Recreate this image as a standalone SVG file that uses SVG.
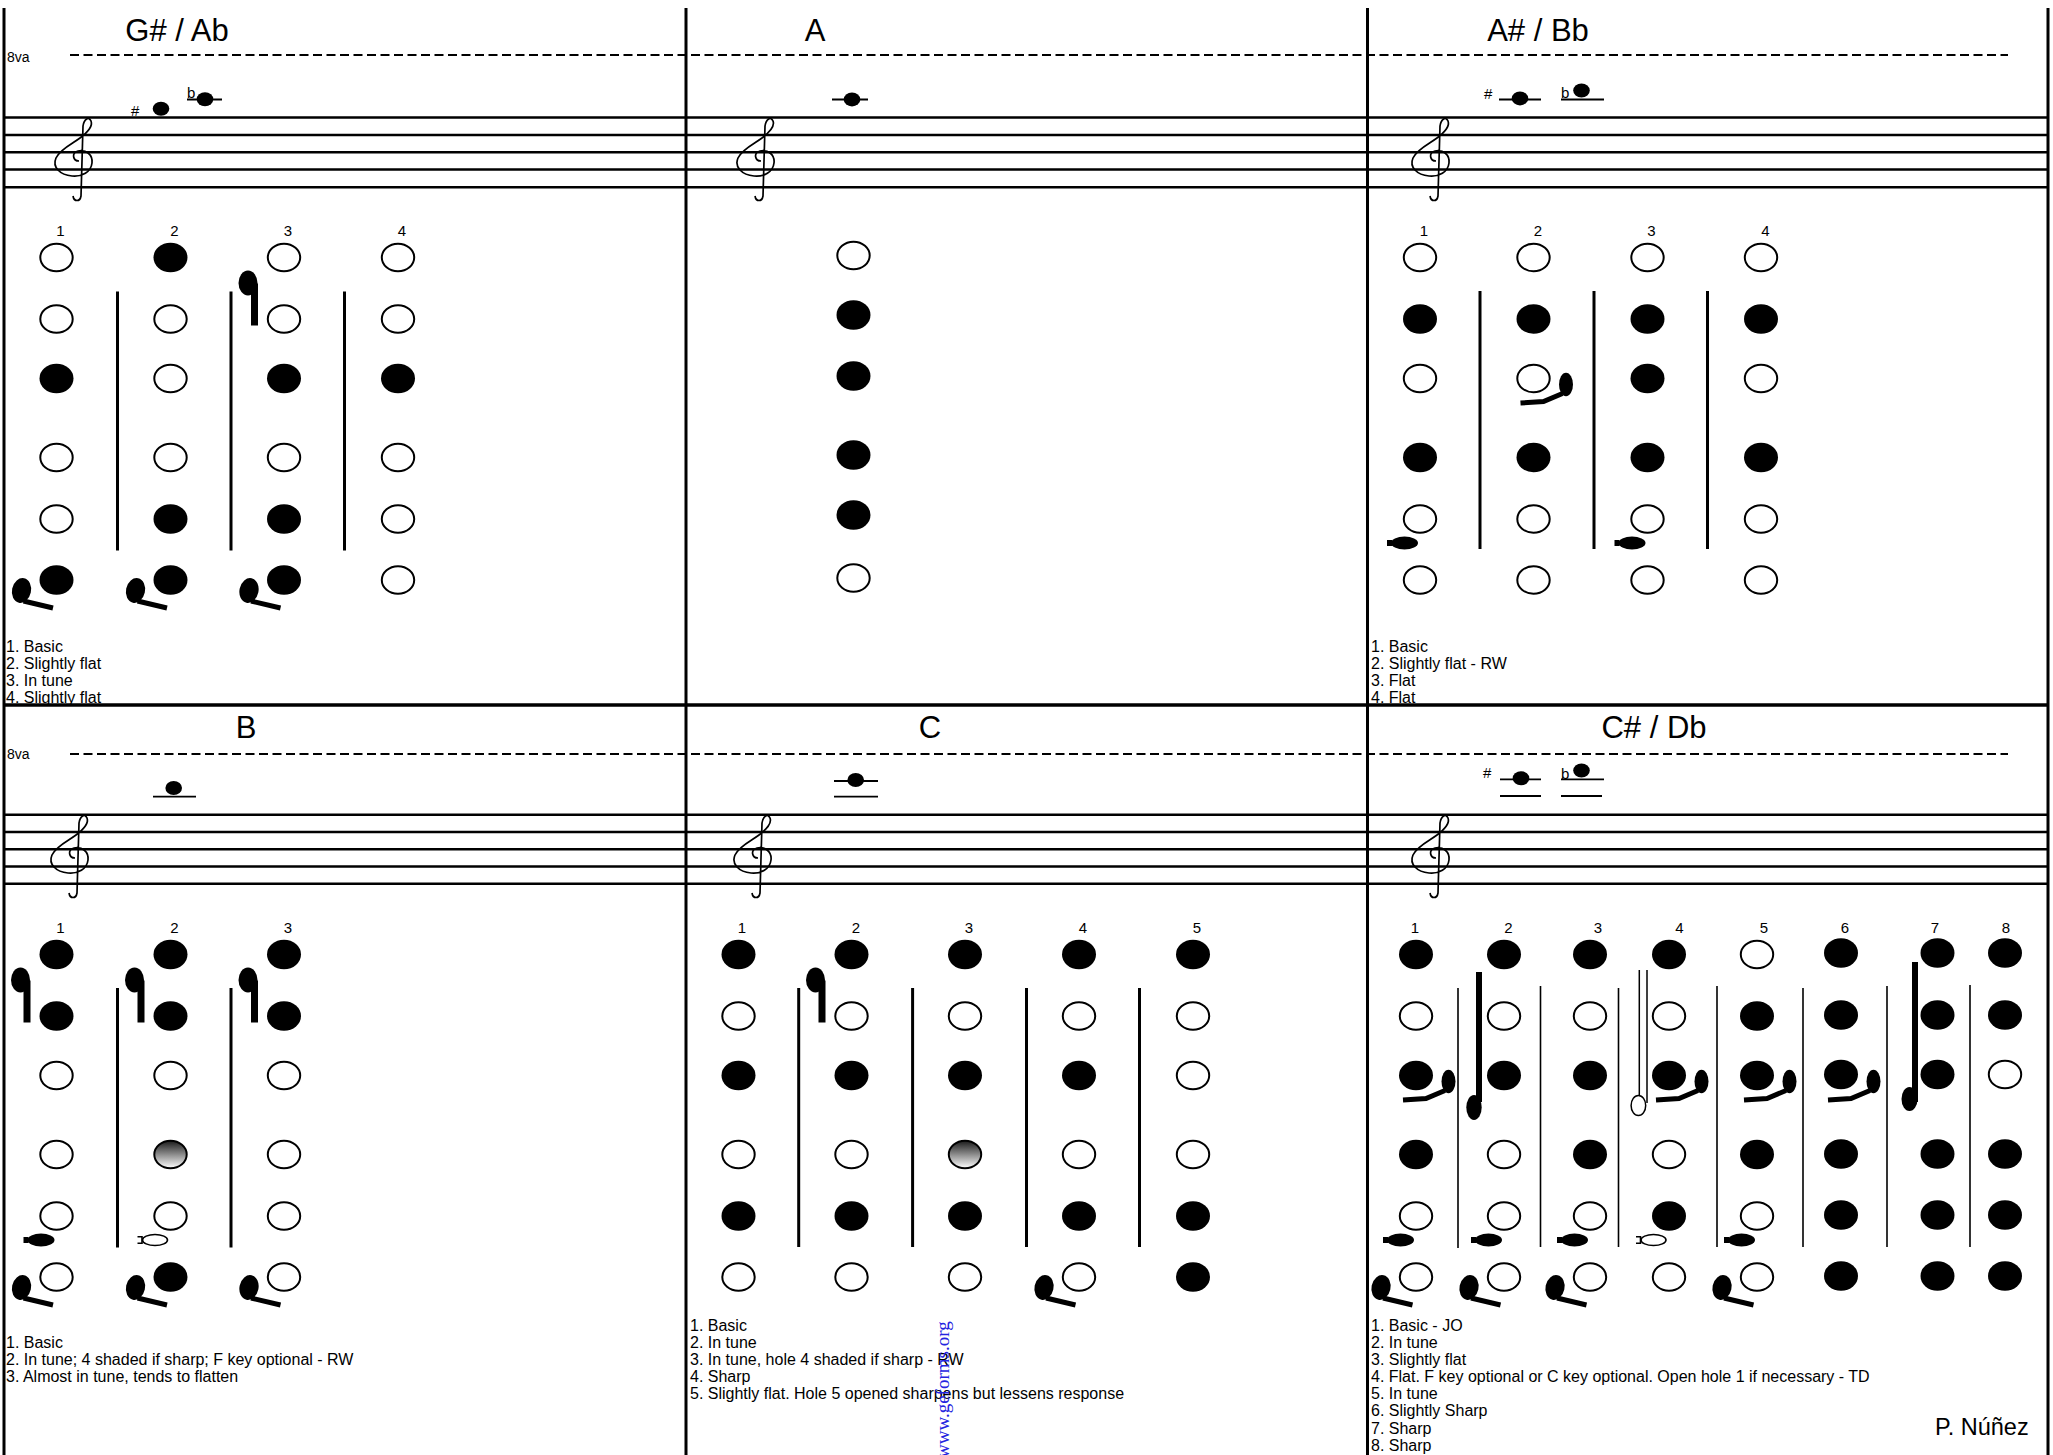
<svg xmlns="http://www.w3.org/2000/svg" width="2053" height="1455" viewBox="0 0 2053 1455">
<style>
text{font-family:"Liberation Sans",Arial,sans-serif;fill:#000}
.t{font-size:31px;text-anchor:middle}
.n{font-size:15px;text-anchor:middle}
.l{font-size:16px}
.acc{font-size:15px}
.va{font-size:14px}
.o{fill:#fff;stroke:#000;stroke-width:2}
.f{fill:#000}
.g{fill:url(#shade);stroke:#000;stroke-width:2}
.staff{stroke:#000;stroke-width:2.5}
.dash{stroke:#000;stroke-width:1.8;stroke-dasharray:9 4.5}
.bd{stroke:#000;stroke-width:3}
.dv{stroke:#000;stroke-width:3}
.dvt{stroke:#000;stroke-width:1.6}
.led{stroke:#000;stroke-width:1.8}
.clef{fill:none;stroke:#000;stroke-width:1.7}
</style>
<defs>
<linearGradient id="shade" x1="0" y1="0" x2="0" y2="1">
<stop offset="0" stop-color="#1a1a1a"/>
<stop offset="1" stop-color="#ffffff"/>
</linearGradient>
<path id="clef" class="clef" d="M 79 161 C 73 161, 71 153, 78 151 C 86 149, 93 155, 92 163 C 91 172, 82 177, 72 176 C 60 175, 52 167, 56 158 C 60 149, 72 144, 80 138 C 88 132, 93 126, 91 121 C 89 116, 84 119, 83 126 L 81 196 C 80 202, 74 202, 73 196"/>
<g id="lowkey">
<ellipse cx="-35" cy="10.5" rx="9.5" ry="12.5" transform="rotate(12 -35 10.5)" fill="#000"/>
<line x1="-33" y1="21" x2="-3.5" y2="28" stroke="#000" stroke-width="5"/>
</g>
<g id="fkey">
<ellipse cx="-36" cy="25.5" rx="9.5" ry="12.5" fill="#000"/>
<rect x="-33" y="26" width="7" height="42" fill="#000"/>
</g>
<g id="ekey">
<ellipse cx="-15.5" cy="24" rx="13.5" ry="6.5" fill="#000"/>
<rect x="-33" y="21" width="5" height="6" fill="#000"/>
</g>
<g id="ekeyo">
<ellipse cx="-15.5" cy="24" rx="12.5" ry="5.5" fill="#fff" stroke="#000" stroke-width="1.6"/>
<path d="M -33 20.8 H -28.5 V 27.2 H -33" fill="none" stroke="#000" stroke-width="1.6"/>
</g>
<g id="gkey">
<ellipse cx="32.5" cy="6" rx="7" ry="11.7" fill="#000"/>
<polyline points="-13,24.5 10,23 29,15" fill="none" stroke="#000" stroke-width="5"/>
</g>
</defs>

<rect x="0" y="0" width="2053" height="1455" fill="#fff"/>

<g id="frame">
<line class="bd" x1="4" y1="8" x2="4" y2="1455"/>
<line class="bd" x1="686" y1="8" x2="686" y2="1455"/>
<line class="bd" x1="1367.5" y1="8" x2="1367.5" y2="1455"/>
<line class="bd" x1="2048" y1="8" x2="2048" y2="1455"/>
<line x1="4" y1="705" x2="2048" y2="705" stroke="#000" stroke-width="3.5"/>
</g>

<g id="staves">
<line class="dash" x1="70" y1="55" x2="2008" y2="55"/>
<line class="dash" x1="70" y1="754" x2="2008" y2="754"/>
<line class="staff" x1="4" y1="117.5" x2="2048" y2="117.5"/>
<line class="staff" x1="4" y1="135" x2="2048" y2="135"/>
<line class="staff" x1="4" y1="152.3" x2="2048" y2="152.3"/>
<line class="staff" x1="4" y1="169.5" x2="2048" y2="169.5"/>
<line class="staff" x1="4" y1="187.3" x2="2048" y2="187.3"/>
<line class="staff" x1="4" y1="814.8" x2="2048" y2="814.8"/>
<line class="staff" x1="4" y1="832" x2="2048" y2="832"/>
<line class="staff" x1="4" y1="849.3" x2="2048" y2="849.3"/>
<line class="staff" x1="4" y1="866.6" x2="2048" y2="866.6"/>
<line class="staff" x1="4" y1="883.8" x2="2048" y2="883.8"/>
<text class="va" x="7" y="62">8va</text>
<text class="va" x="7" y="759">8va</text>
<use href="#clef" x="0" y="0"/>
<use href="#clef" x="682" y="0"/>
<use href="#clef" x="1357" y="0"/>
<use href="#clef" x="-4" y="697"/>
<use href="#clef" x="679" y="697"/>
<use href="#clef" x="1357" y="697"/>
</g>

<g id="p-gsharp">
<text class="t" x="177" y="40.5">G# / Ab</text>
<text class="acc" x="131" y="115.7">#</text>
<ellipse class="f" cx="161" cy="108.7" rx="8.3" ry="7"/>
<text class="acc" x="187" y="98">b</text>
<line class="led" x1="187" y1="99.5" x2="222" y2="99.5"/>
<ellipse class="f" cx="205" cy="99.3" rx="8.3" ry="7"/>
<text class="n" x="60.5" y="235.5">1</text>
<text class="n" x="174.5" y="235.5">2</text>
<text class="n" x="288" y="235.5">3</text>
<text class="n" x="402" y="235.5">4</text>
<line class="dv" x1="117.5" y1="291.5" x2="117.5" y2="550.5"/>
<line class="dv" x1="231" y1="291.5" x2="231" y2="550.5"/>
<line class="dv" x1="344.5" y1="291.5" x2="344.5" y2="550.5"/>
<ellipse class="o" cx="56.5" cy="257.5" rx="16.2" ry="13.8"/>
<ellipse class="o" cx="56.5" cy="319" rx="16.2" ry="13.8"/>
<ellipse class="f" cx="56.5" cy="378.5" rx="17" ry="14.7"/>
<ellipse class="o" cx="56.5" cy="457.5" rx="16.2" ry="13.8"/>
<ellipse class="o" cx="56.5" cy="519" rx="16.2" ry="13.8"/>
<ellipse class="f" cx="56.5" cy="580" rx="17" ry="14.7"/>
<ellipse class="f" cx="170.5" cy="257.5" rx="17" ry="14.7"/>
<ellipse class="o" cx="170.5" cy="319" rx="16.2" ry="13.8"/>
<ellipse class="o" cx="170.5" cy="378.5" rx="16.2" ry="13.8"/>
<ellipse class="o" cx="170.5" cy="457.5" rx="16.2" ry="13.8"/>
<ellipse class="f" cx="170.5" cy="519" rx="17" ry="14.7"/>
<ellipse class="f" cx="170.5" cy="580" rx="17" ry="14.7"/>
<ellipse class="o" cx="284" cy="257.5" rx="16.2" ry="13.8"/>
<ellipse class="o" cx="284" cy="319" rx="16.2" ry="13.8"/>
<ellipse class="f" cx="284" cy="378.5" rx="17" ry="14.7"/>
<ellipse class="o" cx="284" cy="457.5" rx="16.2" ry="13.8"/>
<ellipse class="f" cx="284" cy="519" rx="17" ry="14.7"/>
<ellipse class="f" cx="284" cy="580" rx="17" ry="14.7"/>
<ellipse class="o" cx="398" cy="257.5" rx="16.2" ry="13.8"/>
<ellipse class="o" cx="398" cy="319" rx="16.2" ry="13.8"/>
<ellipse class="f" cx="398" cy="378.5" rx="17" ry="14.7"/>
<ellipse class="o" cx="398" cy="457.5" rx="16.2" ry="13.8"/>
<ellipse class="o" cx="398" cy="519" rx="16.2" ry="13.8"/>
<ellipse class="o" cx="398" cy="580" rx="16.2" ry="13.8"/>
<use href="#fkey" x="284" y="257.5"/>
<use href="#lowkey" x="56.5" y="580"/>
<use href="#lowkey" x="170.5" y="580"/>
<use href="#lowkey" x="284" y="580"/>
<text class="l" x="6" y="651.5">1. Basic</text>
<text class="l" x="6" y="668.7">2. Slightly flat</text>
<text class="l" x="6" y="686">3. In tune</text>
<text class="l" x="6" y="703">4. Slightly flat</text>
</g>

<g id="p-a">
<text class="t" x="815" y="40.5">A</text>
<line class="led" x1="832" y1="99.5" x2="868" y2="99.5"/>
<ellipse class="f" cx="852" cy="99.4" rx="8.3" ry="7"/>
<ellipse class="o" cx="853.5" cy="255.5" rx="16.2" ry="13.8"/>
<ellipse class="f" cx="853.5" cy="315" rx="17" ry="14.7"/>
<ellipse class="f" cx="853.5" cy="376" rx="17" ry="14.7"/>
<ellipse class="f" cx="853.5" cy="455" rx="17" ry="14.7"/>
<ellipse class="f" cx="853.5" cy="515" rx="17" ry="14.7"/>
<ellipse class="o" cx="853.5" cy="578" rx="16.2" ry="13.8"/>
</g>

<g id="p-asharp">
<text class="t" x="1538" y="40.5">A# / Bb</text>
<text class="acc" x="1484" y="99">#</text>
<line class="led" x1="1499" y1="99.5" x2="1541" y2="99.5"/>
<ellipse class="f" cx="1520" cy="98.4" rx="8.3" ry="7"/>
<text class="acc" x="1561" y="98">b</text>
<line class="led" x1="1561" y1="99.5" x2="1604" y2="99.5"/>
<ellipse class="f" cx="1581.5" cy="90.5" rx="8.3" ry="7"/>
<text class="n" x="1424" y="235.5">1</text>
<text class="n" x="1538" y="235.5">2</text>
<text class="n" x="1651.5" y="235.5">3</text>
<text class="n" x="1765.5" y="235.5">4</text>
<line class="dv" x1="1480" y1="291" x2="1480" y2="549"/>
<line class="dv" x1="1594" y1="291" x2="1594" y2="549"/>
<line class="dv" x1="1707.5" y1="291" x2="1707.5" y2="549"/>
<ellipse class="o" cx="1420" cy="257.5" rx="16.2" ry="13.8"/>
<ellipse class="f" cx="1420" cy="319" rx="17" ry="14.7"/>
<ellipse class="o" cx="1420" cy="378.5" rx="16.2" ry="13.8"/>
<ellipse class="f" cx="1420" cy="457.5" rx="17" ry="14.7"/>
<ellipse class="o" cx="1420" cy="519" rx="16.2" ry="13.8"/>
<ellipse class="o" cx="1420" cy="580" rx="16.2" ry="13.8"/>
<ellipse class="o" cx="1533.5" cy="257.5" rx="16.2" ry="13.8"/>
<ellipse class="f" cx="1533.5" cy="319" rx="17" ry="14.7"/>
<ellipse class="o" cx="1533.5" cy="378.5" rx="16.2" ry="13.8"/>
<ellipse class="f" cx="1533.5" cy="457.5" rx="17" ry="14.7"/>
<ellipse class="o" cx="1533.5" cy="519" rx="16.2" ry="13.8"/>
<ellipse class="o" cx="1533.5" cy="580" rx="16.2" ry="13.8"/>
<ellipse class="o" cx="1647.5" cy="257.5" rx="16.2" ry="13.8"/>
<ellipse class="f" cx="1647.5" cy="319" rx="17" ry="14.7"/>
<ellipse class="f" cx="1647.5" cy="378.5" rx="17" ry="14.7"/>
<ellipse class="f" cx="1647.5" cy="457.5" rx="17" ry="14.7"/>
<ellipse class="o" cx="1647.5" cy="519" rx="16.2" ry="13.8"/>
<ellipse class="o" cx="1647.5" cy="580" rx="16.2" ry="13.8"/>
<ellipse class="o" cx="1761" cy="257.5" rx="16.2" ry="13.8"/>
<ellipse class="f" cx="1761" cy="319" rx="17" ry="14.7"/>
<ellipse class="o" cx="1761" cy="378.5" rx="16.2" ry="13.8"/>
<ellipse class="f" cx="1761" cy="457.5" rx="17" ry="14.7"/>
<ellipse class="o" cx="1761" cy="519" rx="16.2" ry="13.8"/>
<ellipse class="o" cx="1761" cy="580" rx="16.2" ry="13.8"/>
<use href="#gkey" x="1533.5" y="378.5"/>
<use href="#ekey" x="1420" y="519"/>
<use href="#ekey" x="1647.5" y="519"/>
<text class="l" x="1371" y="651.5">1. Basic</text>
<text class="l" x="1371" y="668.7">2. Slightly flat - RW</text>
<text class="l" x="1371" y="686">3. Flat</text>
<text class="l" x="1371" y="703">4. Flat</text>
</g>

<g id="p-b">
<text class="t" x="246" y="737.5">B</text>
<line class="led" x1="153" y1="796.7" x2="196" y2="796.7"/>
<ellipse class="f" cx="173.7" cy="788" rx="8.3" ry="7"/>
<text class="n" x="60.5" y="932.5">1</text>
<text class="n" x="174.5" y="932.5">2</text>
<text class="n" x="288" y="932.5">3</text>
<line class="dv" x1="117.5" y1="988" x2="117.5" y2="1247.5"/>
<line class="dv" x1="231" y1="988" x2="231" y2="1247.5"/>
<ellipse class="f" cx="56.5" cy="954.5" rx="17" ry="14.7"/>
<ellipse class="f" cx="56.5" cy="1016" rx="17" ry="14.7"/>
<ellipse class="o" cx="56.5" cy="1075.5" rx="16.2" ry="13.8"/>
<ellipse class="o" cx="56.5" cy="1154.5" rx="16.2" ry="13.8"/>
<ellipse class="o" cx="56.5" cy="1216" rx="16.2" ry="13.8"/>
<ellipse class="o" cx="56.5" cy="1277" rx="16.2" ry="13.8"/>
<ellipse class="f" cx="170.5" cy="954.5" rx="17" ry="14.7"/>
<ellipse class="f" cx="170.5" cy="1016" rx="17" ry="14.7"/>
<ellipse class="o" cx="170.5" cy="1075.5" rx="16.2" ry="13.8"/>
<ellipse class="g" cx="170.5" cy="1154.5" rx="16.2" ry="13.8"/>
<ellipse class="o" cx="170.5" cy="1216" rx="16.2" ry="13.8"/>
<ellipse class="f" cx="170.5" cy="1277" rx="17" ry="14.7"/>
<ellipse class="f" cx="284" cy="954.5" rx="17" ry="14.7"/>
<ellipse class="f" cx="284" cy="1016" rx="17" ry="14.7"/>
<ellipse class="o" cx="284" cy="1075.5" rx="16.2" ry="13.8"/>
<ellipse class="o" cx="284" cy="1154.5" rx="16.2" ry="13.8"/>
<ellipse class="o" cx="284" cy="1216" rx="16.2" ry="13.8"/>
<ellipse class="o" cx="284" cy="1277" rx="16.2" ry="13.8"/>
<use href="#fkey" x="56.5" y="954.5"/>
<use href="#fkey" x="170.5" y="954.5"/>
<use href="#fkey" x="284" y="954.5"/>
<use href="#ekey" x="56.5" y="1216"/>
<use href="#ekeyo" x="170.5" y="1216"/>
<use href="#lowkey" x="56.5" y="1277"/>
<use href="#lowkey" x="170.5" y="1277"/>
<use href="#lowkey" x="284" y="1277"/>
<text class="l" x="6" y="1347.7">1. Basic</text>
<text class="l" x="6" y="1365">2. In tune; 4 shaded if sharp; F key optional - RW</text>
<text class="l" x="6" y="1382">3. Almost in tune, tends to flatten</text>
</g>

<g id="p-c">
<text class="t" x="930" y="737.5">C</text>
<line class="led" x1="834" y1="781" x2="878" y2="781"/>
<line class="led" x1="834" y1="796.7" x2="878" y2="796.7"/>
<ellipse class="f" cx="855.7" cy="780" rx="8.3" ry="7"/>
<text class="n" x="742" y="932.5">1</text>
<text class="n" x="856" y="932.5">2</text>
<text class="n" x="969" y="932.5">3</text>
<text class="n" x="1083" y="932.5">4</text>
<text class="n" x="1197" y="932.5">5</text>
<line class="dv" x1="798.7" y1="988" x2="798.7" y2="1247"/>
<line class="dv" x1="912.6" y1="988" x2="912.6" y2="1247"/>
<line class="dv" x1="1026.5" y1="988" x2="1026.5" y2="1247"/>
<line class="dv" x1="1139.5" y1="988" x2="1139.5" y2="1247"/>
<ellipse class="f" cx="738.5" cy="954.5" rx="17" ry="14.7"/>
<ellipse class="o" cx="738.5" cy="1016" rx="16.2" ry="13.8"/>
<ellipse class="f" cx="738.5" cy="1075.5" rx="17" ry="14.7"/>
<ellipse class="o" cx="738.5" cy="1154.5" rx="16.2" ry="13.8"/>
<ellipse class="f" cx="738.5" cy="1216" rx="17" ry="14.7"/>
<ellipse class="o" cx="738.5" cy="1277" rx="16.2" ry="13.8"/>
<ellipse class="f" cx="851.5" cy="954.5" rx="17" ry="14.7"/>
<ellipse class="o" cx="851.5" cy="1016" rx="16.2" ry="13.8"/>
<ellipse class="f" cx="851.5" cy="1075.5" rx="17" ry="14.7"/>
<ellipse class="o" cx="851.5" cy="1154.5" rx="16.2" ry="13.8"/>
<ellipse class="f" cx="851.5" cy="1216" rx="17" ry="14.7"/>
<ellipse class="o" cx="851.5" cy="1277" rx="16.2" ry="13.8"/>
<ellipse class="f" cx="965" cy="954.5" rx="17" ry="14.7"/>
<ellipse class="o" cx="965" cy="1016" rx="16.2" ry="13.8"/>
<ellipse class="f" cx="965" cy="1075.5" rx="17" ry="14.7"/>
<ellipse class="g" cx="965" cy="1154.5" rx="16.2" ry="13.8"/>
<ellipse class="f" cx="965" cy="1216" rx="17" ry="14.7"/>
<ellipse class="o" cx="965" cy="1277" rx="16.2" ry="13.8"/>
<ellipse class="f" cx="1079" cy="954.5" rx="17" ry="14.7"/>
<ellipse class="o" cx="1079" cy="1016" rx="16.2" ry="13.8"/>
<ellipse class="f" cx="1079" cy="1075.5" rx="17" ry="14.7"/>
<ellipse class="o" cx="1079" cy="1154.5" rx="16.2" ry="13.8"/>
<ellipse class="f" cx="1079" cy="1216" rx="17" ry="14.7"/>
<ellipse class="o" cx="1079" cy="1277" rx="16.2" ry="13.8"/>
<ellipse class="f" cx="1193" cy="954.5" rx="17" ry="14.7"/>
<ellipse class="o" cx="1193" cy="1016" rx="16.2" ry="13.8"/>
<ellipse class="o" cx="1193" cy="1075.5" rx="16.2" ry="13.8"/>
<ellipse class="o" cx="1193" cy="1154.5" rx="16.2" ry="13.8"/>
<ellipse class="f" cx="1193" cy="1216" rx="17" ry="14.7"/>
<ellipse class="f" cx="1193" cy="1277" rx="17" ry="14.7"/>
<use href="#fkey" x="851.5" y="954.5"/>
<use href="#lowkey" x="1079" y="1277"/>
<text class="l" x="690" y="1330.5">1. Basic</text>
<text class="l" x="690" y="1347.7">2. In tune</text>
<text class="l" x="690" y="1365">3. In tune, hole 4 shaded if sharp - RW</text>
<text class="l" x="690" y="1382">4. Sharp</text>
<text class="l" x="690" y="1399">5. Slightly flat. Hole 5 opened sharpens but lessens response</text>
</g>

<g id="p-csharp">
<text class="t" x="1654" y="737.5">C# / Db</text>
<text class="acc" x="1483" y="778">#</text>
<line class="led" x1="1500" y1="779.3" x2="1541" y2="779.3"/>
<line class="led" x1="1500" y1="796" x2="1541" y2="796"/>
<ellipse class="f" cx="1521" cy="778.3" rx="8.3" ry="7"/>
<text class="acc" x="1561" y="779">b</text>
<line class="led" x1="1561" y1="779.3" x2="1604" y2="779.3"/>
<line class="led" x1="1561" y1="796" x2="1602" y2="796"/>
<ellipse class="f" cx="1581.5" cy="770.5" rx="8.3" ry="7"/>
<text class="n" x="1415" y="932.5">1</text>
<text class="n" x="1508.5" y="932.5">2</text>
<text class="n" x="1598" y="932.5">3</text>
<text class="n" x="1679.5" y="932.5">4</text>
<text class="n" x="1764" y="932.5">5</text>
<text class="n" x="1845" y="932.5">6</text>
<text class="n" x="1935" y="932.5">7</text>
<text class="n" x="2006" y="932.5">8</text>
<line class="dvt" x1="1458" y1="988" x2="1458" y2="1248"/>
<line class="dvt" x1="1540.5" y1="986" x2="1540.5" y2="1247"/>
<line class="dvt" x1="1618.5" y1="988" x2="1618.5" y2="1247"/>
<line class="dvt" x1="1717" y1="986" x2="1717" y2="1247"/>
<line class="dvt" x1="1803" y1="988" x2="1803" y2="1247"/>
<line class="dvt" x1="1887" y1="986" x2="1887" y2="1247"/>
<line class="dvt" x1="1970" y1="985" x2="1970" y2="1247"/>
<ellipse class="f" cx="1416" cy="954.5" rx="17" ry="14.7"/>
<ellipse class="o" cx="1416" cy="1016" rx="16.2" ry="13.8"/>
<ellipse class="f" cx="1416" cy="1075.5" rx="17" ry="14.7"/>
<ellipse class="f" cx="1416" cy="1154.5" rx="17" ry="14.7"/>
<ellipse class="o" cx="1416" cy="1216" rx="16.2" ry="13.8"/>
<ellipse class="o" cx="1416" cy="1277" rx="16.2" ry="13.8"/>
<ellipse class="f" cx="1504" cy="954.5" rx="17" ry="14.7"/>
<ellipse class="o" cx="1504" cy="1016" rx="16.2" ry="13.8"/>
<ellipse class="f" cx="1504" cy="1075.5" rx="17" ry="14.7"/>
<ellipse class="o" cx="1504" cy="1154.5" rx="16.2" ry="13.8"/>
<ellipse class="o" cx="1504" cy="1216" rx="16.2" ry="13.8"/>
<ellipse class="o" cx="1504" cy="1277" rx="16.2" ry="13.8"/>
<ellipse class="f" cx="1590" cy="954.5" rx="17" ry="14.7"/>
<ellipse class="o" cx="1590" cy="1016" rx="16.2" ry="13.8"/>
<ellipse class="f" cx="1590" cy="1075.5" rx="17" ry="14.7"/>
<ellipse class="f" cx="1590" cy="1154.5" rx="17" ry="14.7"/>
<ellipse class="o" cx="1590" cy="1216" rx="16.2" ry="13.8"/>
<ellipse class="o" cx="1590" cy="1277" rx="16.2" ry="13.8"/>
<ellipse class="f" cx="1669" cy="954.5" rx="17" ry="14.7"/>
<ellipse class="o" cx="1669" cy="1016" rx="16.2" ry="13.8"/>
<ellipse class="f" cx="1669" cy="1075.5" rx="17" ry="14.7"/>
<ellipse class="o" cx="1669" cy="1154.5" rx="16.2" ry="13.8"/>
<ellipse class="f" cx="1669" cy="1216" rx="17" ry="14.7"/>
<ellipse class="o" cx="1669" cy="1277" rx="16.2" ry="13.8"/>
<ellipse class="o" cx="1757" cy="954.5" rx="16.2" ry="13.8"/>
<ellipse class="f" cx="1757" cy="1016" rx="17" ry="14.7"/>
<ellipse class="f" cx="1757" cy="1075.5" rx="17" ry="14.7"/>
<ellipse class="f" cx="1757" cy="1154.5" rx="17" ry="14.7"/>
<ellipse class="o" cx="1757" cy="1216" rx="16.2" ry="13.8"/>
<ellipse class="o" cx="1757" cy="1277" rx="16.2" ry="13.8"/>
<ellipse class="f" cx="1841" cy="953" rx="17" ry="14.7"/>
<ellipse class="f" cx="1841" cy="1015" rx="17" ry="14.7"/>
<ellipse class="f" cx="1841" cy="1074.5" rx="17" ry="14.7"/>
<ellipse class="f" cx="1841" cy="1154" rx="17" ry="14.7"/>
<ellipse class="f" cx="1841" cy="1215" rx="17" ry="14.7"/>
<ellipse class="f" cx="1841" cy="1276" rx="17" ry="14.7"/>
<ellipse class="f" cx="1937.5" cy="953" rx="17" ry="14.7"/>
<ellipse class="f" cx="1937.5" cy="1015" rx="17" ry="14.7"/>
<ellipse class="f" cx="1937.5" cy="1074.5" rx="17" ry="14.7"/>
<ellipse class="f" cx="1937.5" cy="1154" rx="17" ry="14.7"/>
<ellipse class="f" cx="1937.5" cy="1215" rx="17" ry="14.7"/>
<ellipse class="f" cx="1937.5" cy="1276" rx="17" ry="14.7"/>
<ellipse class="f" cx="2005" cy="953" rx="17" ry="14.7"/>
<ellipse class="f" cx="2005" cy="1015" rx="17" ry="14.7"/>
<ellipse class="o" cx="2005" cy="1074.5" rx="16.2" ry="13.8"/>
<ellipse class="f" cx="2005" cy="1154" rx="17" ry="14.7"/>
<ellipse class="f" cx="2005" cy="1215" rx="17" ry="14.7"/>
<ellipse class="f" cx="2005" cy="1276" rx="17" ry="14.7"/>
<use href="#gkey" x="1416" y="1075.5"/>
<use href="#gkey" x="1669" y="1075.5"/>
<use href="#gkey" x="1757" y="1075.5"/>
<use href="#gkey" x="1841" y="1075.5"/>
<use href="#ekey" x="1416" y="1216"/>
<use href="#ekey" x="1504" y="1216"/>
<use href="#ekey" x="1590" y="1216"/>
<use href="#ekey" x="1757" y="1216"/>
<use href="#ekeyo" x="1669" y="1216"/>
<use href="#lowkey" x="1416" y="1277"/>
<use href="#lowkey" x="1504" y="1277"/>
<use href="#lowkey" x="1590" y="1277"/>
<use href="#lowkey" x="1757" y="1277"/>
<rect x="1476" y="972" width="6" height="130" fill="#000"/>
<ellipse cx="1474" cy="1107.5" rx="7.7" ry="12.5" fill="#000"/>
<rect x="1912" y="962" width="6" height="140" fill="#000"/>
<ellipse cx="1909.5" cy="1099" rx="8" ry="12" fill="#000"/>
<line x1="1639.3" y1="970" x2="1639.3" y2="1096" stroke="#000" stroke-width="1.5"/>
<line x1="1647" y1="970" x2="1647" y2="1103" stroke="#000" stroke-width="1.5"/>
<ellipse cx="1638.4" cy="1105.5" rx="7.3" ry="10" fill="#fff" stroke="#000" stroke-width="1.5"/>
<text class="l" x="1371" y="1330.5">1. Basic - JO</text>
<text class="l" x="1371" y="1347.7">2. In tune</text>
<text class="l" x="1371" y="1365">3. Slightly flat</text>
<text class="l" x="1371" y="1382">4. Flat. F key optional or C key optional. Open hole 1 if necessary - TD</text>
<text class="l" x="1371" y="1399">5. In tune</text>
<text class="l" x="1371" y="1416">6. Slightly Sharp</text>
<text class="l" x="1371" y="1433.5">7. Sharp</text>
<text class="l" x="1371" y="1450.5">8. Sharp</text>
<text x="1935" y="1435" style="font-size:23.5px">P. Núñez</text>
</g>

<g id="watermark">
<text transform="translate(949 1458) rotate(-90)" style="font-family:'Liberation Serif','Times New Roman',serif;font-size:19px;fill:#2424e0">www.geforms.org</text>
</g>
</svg>
